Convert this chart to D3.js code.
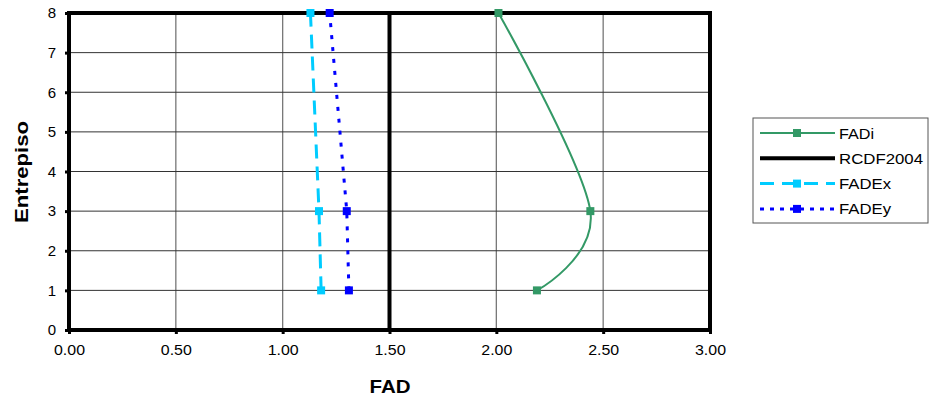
<!DOCTYPE html>
<html>
<head>
<meta charset="utf-8">
<script src="https://cdn.jsdelivr.net/npm/d3@7"></script>
<style>
  body { margin: 0; background: #fff; }
  text { font-family: "Liberation Sans", Arial, sans-serif; }
</style>
</head>
<body>
<svg width="929" height="402"></svg>
<script>
// floors and FAD values
var floors = [1, 3, 8];
var fadi = [2.19, 2.44, 2.01];
var fadex = [1.18, 1.17, 1.13];
var fadey = [1.31, 1.30, 1.22];
var rcdfX = [1.5, 1.5];
var rcdfY = [0, 8];
var xTicks = [0, 0.5, 1, 1.5, 2, 2.5, 3];
var yTicks = [0, 1, 2, 3, 4, 5, 6, 7, 8];

var svg = d3.select("svg");

var x = d3.scaleLinear().domain([0, 3]).range([69, 710]);
var y = d3.scaleLinear().domain([0, 8]).range([330, 13]);

// gridlines
svg.append("g").selectAll("line")
  .data(xTicks.slice(1, -1))
  .enter().append("line")
  .attr("x1", d => x(d)).attr("x2", d => x(d))
  .attr("y1", y(0)).attr("y2", y(8))
  .attr("stroke", "#777").attr("stroke-width", 1.3);

svg.append("g").selectAll("line")
  .data(yTicks.slice(1, -1))
  .enter().append("line")
  .attr("x1", x(0)).attr("x2", x(3))
  .attr("y1", d => y(d)).attr("y2", d => y(d))
  .attr("stroke", "#333").attr("stroke-width", 1);

// frame
svg.append("rect")
  .attr("x", x(0)).attr("y", y(8))
  .attr("width", x(3) - x(0)).attr("height", y(0) - y(8))
  .attr("fill", "none").attr("stroke", "#000").attr("stroke-width", 4);

// axes
var xAxis = d3.axisBottom(x).tickValues(xTicks).tickFormat(d3.format(".2f")).tickSize(4).tickPadding(10);
var yAxis = d3.axisLeft(y).tickValues(yTicks).tickFormat(d3.format("d")).tickSize(4).tickPadding(9);

var gx = svg.append("g").attr("transform", "translate(0," + y(0) + ")").call(xAxis);
var gy = svg.append("g").attr("transform", "translate(" + x(0) + ",0)").call(yAxis);
[gx, gy].forEach(g => {
  g.select(".domain").remove();
  g.selectAll(".tick line").attr("stroke", "#000").attr("stroke-width", 3);
  g.selectAll(".tick text").attr("font-size", 15).attr("fill", "#000")
    .style("font-family", "'Liberation Sans', Arial, sans-serif");
});
gx.selectAll(".tick text").attr("textLength", 31).attr("lengthAdjust", "spacingAndGlyphs");

// RCDF2004
var rcdf = rcdfX.map((v, i) => [v, rcdfY[i]]);
svg.append("path")
  .datum(rcdf)
  .attr("d", d3.line().x(d => x(d[0])).y(d => y(d[1])))
  .attr("fill", "none").attr("stroke", "#000").attr("stroke-width", 4);

// series
var series = [
  { name: "FADi", vals: fadi, color: "#339966", dash: null, curve: d3.curveCardinal.tension(0), w: 2 },
  { name: "FADEx", vals: fadex, color: "#00ccff", dash: "14,8", curve: d3.curveLinear, w: 3 },
  { name: "FADEy", vals: fadey, color: "#0000ff", dash: "4,8", curve: d3.curveLinear, w: 3 }
];

series.forEach(s => {
  var pts = s.vals.map((v, i) => [v, floors[i]]);
  svg.append("path")
    .datum(pts)
    .attr("d", d3.line().curve(s.curve).x(d => x(d[0])).y(d => y(d[1])))
    .attr("fill", "none").attr("stroke", s.color).attr("stroke-width", s.w)
    .attr("stroke-dasharray", s.dash);
  svg.append("g").selectAll("rect")
    .data(pts)
    .enter().append("rect")
    .attr("x", d => x(d[0]) - 4).attr("y", d => y(d[1]) - 4)
    .attr("width", 8).attr("height", 8)
    .attr("fill", s.color);
});

// axis titles
svg.append("text")
  .attr("x", 390).attr("y", 393)
  .attr("text-anchor", "middle")
  .attr("font-size", 19).attr("font-weight", "bold")
  .attr("textLength", 41).attr("lengthAdjust", "spacingAndGlyphs")
  .text("FAD");

svg.append("text")
  .attr("transform", "translate(28,172) rotate(-90)")
  .attr("text-anchor", "middle")
  .attr("font-size", 19).attr("font-weight", "bold")
  .attr("textLength", 102).attr("lengthAdjust", "spacingAndGlyphs")
  .text("Entrepiso");

// legend
var legend = [
  { name: "FADi", color: "#339966", dash: null, w: 2, marker: true, len: 35 },
  { name: "RCDF2004", color: "#000", dash: null, w: 4, marker: false, len: 84 },
  { name: "FADEx", color: "#00ccff", dash: "14,8", w: 3, marker: true, len: 52 },
  { name: "FADEy", color: "#0000ff", dash: "4,6", w: 3, marker: true, len: 52 }
];

svg.append("rect")
  .attr("x", 753).attr("y", 118)
  .attr("width", 175).attr("height", 105)
  .attr("fill", "#fff").attr("stroke", "#555").attr("stroke-width", 1);

var lg = svg.append("g").selectAll("g")
  .data(legend)
  .enter().append("g")
  .attr("transform", (d, i) => "translate(0," + (133 + i * 25.3) + ")");

lg.append("line")
  .attr("x1", 760).attr("x2", 835)
  .attr("stroke", d => d.color).attr("stroke-width", d => d.w)
  .attr("stroke-dasharray", d => d.dash);

lg.filter(d => d.marker).append("rect")
  .attr("x", 793).attr("y", -4).attr("width", 8).attr("height", 8)
  .attr("fill", d => d.color);

lg.append("text")
  .attr("x", 839).attr("y", 5.5)
  .attr("font-size", 15.5)
  .attr("textLength", d => d.len)
  .attr("lengthAdjust", "spacingAndGlyphs")
  .text(d => d.name);
</script>
</body>
</html>
